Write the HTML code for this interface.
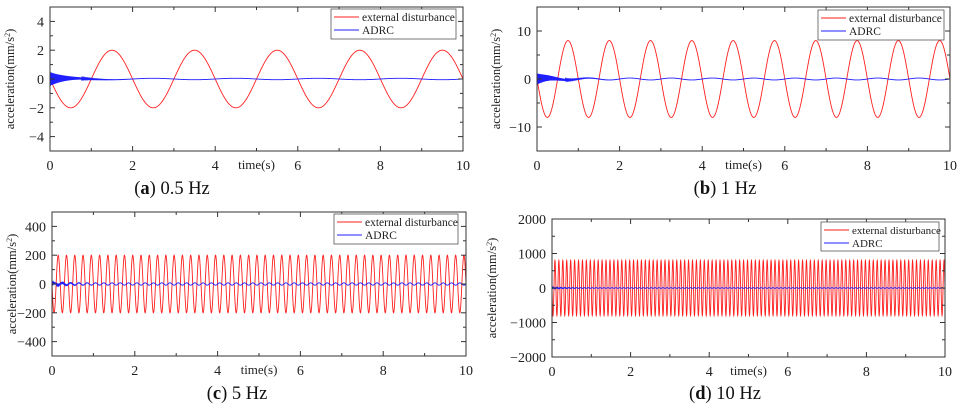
<!DOCTYPE html>
<html><head><meta charset="utf-8"><style>
html,body{margin:0;padding:0;background:#fff;width:960px;height:410px;overflow:hidden}
svg{display:block;font-family:"Liberation Serif",serif}
</style></head><body>
<svg id="fig" width="960" height="410" viewBox="0 0 960 410" xmlns="http://www.w3.org/2000/svg"></svg>
<script>
// data per panel
const panelIds = ['a','b','c','d'];
const captions = ['0.5 Hz','1 Hz','5 Hz','10 Hz'];
const freqs = [0.5, 1, 5, 10];
const distAmps = [2, 8, 200, 800];
const adrcTransient = [0.5, 1.2, 8, 15];
const adrcResidual = [0.05, 0.2, 8, 10];
const yMaxes = [5, 15, 500, 2000];
const yMajorSteps = [2, 10, 200, 1000];
const xTicks = [0, 2, 4, 6, 8, 10];
const legendLabels = ['external disturbance', 'ADRC'];

// layout
const boxes = [
  {x0:50,x1:463,y0:7,y1:151,cap:[172,194],leg:[331,9,456,39]},
  {x0:537,x1:950,y0:7,y1:151,cap:[725,194],leg:[818,10,944,40]},
  {x0:52,x1:466,y0:212,y1:356,cap:[237,399],leg:[334,214,458,244]},
  {x0:552,x1:945,y0:219,y1:357,cap:[725,399],leg:[821,222,939,251]}
];
const NS='http://www.w3.org/2000/svg';
const svg=document.getElementById('fig');
function mk(tag,attrs,parent){const e=document.createElementNS(NS,tag);for(const k in attrs)e.setAttribute(k,attrs[k]);(parent||svg).appendChild(e);return e;}

panelIds.forEach((id,i)=>{
  const b=boxes[i];
  const g=mk('g',{});
  
  
  const ymax=yMaxes[i];
  const X=t=>b.x0+(t/10)*(b.x1-b.x0);
  const Y=v=>b.y0+(ymax-v)/(2*ymax)*(b.y1-b.y0);
  const cp=mk('clipPath',{id:'clip'+id},g);
  mk('rect',{x:b.x0,y:b.y0,width:b.x1-b.x0,height:b.y1-b.y0},cp);
  const n=Math.max(1500, Math.round(freqs[i]*10*40));
  let dr='',ar='';
  for(let k=0;k<=n;k++){
    const t=10*k/n;
    const d=-distAmps[i]*Math.sin(2*Math.PI*freqs[i]*t);
    dr+=(k?'L':'M')+X(t).toFixed(2)+' '+Y(d).toFixed(2);
  }
  const na=3000;
  for(let k=0;k<=na;k++){
    const t=10*k/na;
    const a=adrcTransient[i]*Math.exp(-t*2.6)*Math.sin(2*Math.PI*60*t)+adrcResidual[i]*Math.sin(2*Math.PI*freqs[i]*t);
    ar+=(k?'L':'M')+X(t).toFixed(2)+' '+Y(a).toFixed(2);
  }
  const dp=mk('path',{d:dr,fill:'none',stroke:'#ff2020','stroke-width':0.9,'clip-path':'url(#clip'+id+')'},g);
  
  
  const ap=mk('path',{d:ar,fill:'none',stroke:'#1f1fff','stroke-width':0.9,'clip-path':'url(#clip'+id+')'},g);
  
  
  const fr=mk('rect',{x:b.x0,y:b.y0,width:b.x1-b.x0,height:b.y1-b.y0,fill:'none',stroke:'#333','stroke-width':1},g);
  
  
  for(let t=0;t<=10;t++){
    const len=(t%2===0)?5:3;
    mk('line',{x1:X(t),x2:X(t),y1:b.y1,y2:b.y1-len,stroke:'#333'},g);
    mk('line',{x1:X(t),x2:X(t),y1:b.y0,y2:b.y0+len,stroke:'#333'},g);
  }
  xTicks.forEach(t=>{
    const tx=mk('text',{x:X(t),y:b.y1+19,'text-anchor':'middle','font-size':14,fill:'#222'},g);
    tx.textContent=t;
    
    
  });
  const xt=mk('text',{x:X(5.0),y:b.y1+18,'text-anchor':'middle','font-size':13,fill:'#222'},g);
  xt.textContent='time(s)';
  
  
  const st=yMajorSteps[i], half=st/2;
  for(let v=-ymax;v<=ymax+1e-9;v+=half){
    const major=Math.abs(Math.round(v/st)*st-v)<1e-9;
    const len=major?5:3;
    mk('line',{x1:b.x0,x2:b.x0+len,y1:Y(v),y2:Y(v),stroke:'#333'},g);
    mk('line',{x1:b.x1,x2:b.x1-len,y1:Y(v),y2:Y(v),stroke:'#333'},g);
    if(major){
      const ty=mk('text',{x:b.x0-6,y:Y(v)+5,'text-anchor':'end','font-size':14,fill:'#222'},g);
      ty.textContent=(v<0?'\u2212':'')+Math.abs(v);
      
      
    }
  }
  const cy=(b.y0+b.y1)/2, cx=(i%2===0)?b.x0-36:b.x0-(i===1?37:56);
  const yt=mk('text',{x:cx,y:cy,'text-anchor':'middle','font-size':12.5,fill:'#222',transform:'rotate(-90 '+cx+' '+cy+')'},g);
  yt.innerHTML='acceleration(mm/s<tspan baseline-shift="super" font-size="8">2</tspan>)';
  
  
  const L=b.leg;
  const lg=mk('g',{},g);
  
  
  mk('rect',{x:L[0],y:L[1],width:L[2]-L[0],height:L[3]-L[1],fill:'#fff',stroke:'#555','stroke-width':0.8},lg);
  const colors=['#ff2020','#1f1fff'];
  const fs=(L[2]-L[0])<122?11:11.5;
  legendLabels.forEach((lab,j)=>{
    const ly=L[1]+8+j*13;
    mk('line',{x1:L[0]+3,x2:L[0]+28,y1:ly,y2:ly,stroke:colors[j],'stroke-width':1},lg);
    const lt=mk('text',{x:L[0]+31,y:ly+4,'font-size':fs,fill:'#222'},lg);
    lt.textContent=lab;
    
    
  });
  const ct=mk('text',{x:b.cap[0],y:b.cap[1],'text-anchor':'middle','font-size':18.5,fill:'#111'},g);
  ct.innerHTML='(<tspan font-weight="bold">'+id+'</tspan>) '+captions[i];
  
  
});
</script>
</body></html>
